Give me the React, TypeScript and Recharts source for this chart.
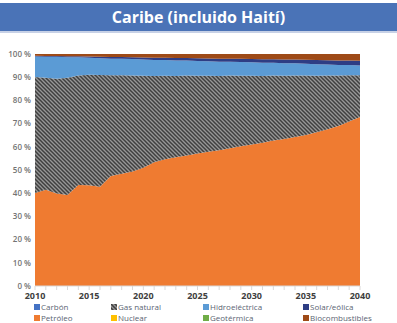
import { Area, AreaChart, XAxis, YAxis } from 'recharts';

const years = [
  2010, 2011, 2012, 2013, 2014, 2015, 2016, 2017, 2018, 2019, 2020, 2021, 2022, 2023, 2024, 2025,
  2026, 2027, 2028, 2029, 2030, 2031, 2032, 2033, 2034, 2035, 2036, 2037, 2038, 2039, 2040,
];

// participación por fuente (%)
const petroleo = [
  40.0, 41.4, 39.7, 39.2, 43.5, 43.4, 42.8, 47.4, 48.3, 49.3, 51.0, 53.4, 54.6, 55.5, 56.2, 57.1,
  57.9, 58.6, 59.3, 60.2, 61.0, 61.8, 62.6, 63.4, 64.2, 65.1, 66.3, 67.6, 69.0, 70.8, 72.8,
];
const gasNatural = [
  49.8, 48.1, 49.3, 50.5, 47.1, 47.6, 48.2, 43.4, 42.4, 41.3, 39.6, 37.2, 36.0, 35.1, 34.4, 33.5,
  32.7, 32.0, 31.3, 30.4, 29.6, 28.8, 28.0, 27.3, 26.5, 25.6, 24.4, 23.2, 21.8, 20.0, 18.0,
];
const carbon = [
  0, 0, 0, 0, 0, 0, 0, 0, 0, 0, 0, 0, 0, 0, 0, 0, 0, 0, 0, 0, 0, 0, 0, 0, 0, 0, 0, 0, 0, 0, 0,
];
const hidro = [
  8.8, 9.0, 9.4, 8.8, 7.9, 7.3, 7.2, 7.2, 7.1, 7.1, 7.0, 6.9, 6.8, 6.7, 6.5, 6.4,
  6.3, 6.2, 6.0, 5.9, 5.8, 5.7, 5.5, 5.4, 5.3, 5.1, 5.0, 4.8, 4.6, 4.4, 4.2,
];
const solarEolica = [
  0.3, 0.3, 0.3, 0.4, 0.4, 0.5, 0.6, 0.7, 0.7, 0.8, 0.9, 1.0, 1.0, 1.1, 1.1, 1.2,
  1.2, 1.3, 1.3, 1.4, 1.4, 1.5, 1.5, 1.6, 1.6, 1.7, 1.8, 1.8, 1.9, 1.9, 2.0,
];
const nuclear = [
  0, 0, 0, 0, 0, 0, 0, 0, 0, 0, 0, 0, 0, 0, 0, 0, 0, 0, 0, 0, 0, 0, 0, 0, 0, 0, 0, 0, 0, 0, 0,
];
const geotermica = [
  0, 0, 0, 0, 0, 0, 0, 0, 0, 0, 0, 0, 0, 0, 0, 0, 0, 0, 0, 0, 0, 0, 0, 0, 0, 0, 0, 0, 0, 0, 0,
];
const biocombustibles = [
  0.8, 0.9, 0.9, 1.0, 1.0, 1.1, 1.2, 1.3, 1.3, 1.4, 1.5, 1.6, 1.6, 1.7, 1.7, 1.8,
  1.9, 2.0, 2.0, 2.1, 2.2, 2.3, 2.3, 2.4, 2.4, 2.5, 2.6, 2.7, 2.8, 2.8, 2.9,
];

const yTicks = [0, 0.1, 0.2, 0.3, 0.4, 0.5, 0.6, 0.7, 0.8, 0.9, 1];

const data = years.map((year, i) => ({
  year,
  petroleo: petroleo[i],
  gas: gasNatural[i],
  carbon: carbon[i],
  hidro: hidro[i],
  solar: solarEolica[i],
  geotermica: geotermica[i],
  nuclear: nuclear[i],
  bio: biocombustibles[i],
}));

const COLORS = {
  carbon: '#4472c4',
  petroleo: '#ef7b31',
  hidro: '#5b9bd5',
  solar: '#2e3d84',
  nuclear: '#ffc000',
  geotermica: '#70ad47',
  bio: '#9e4a17',
};

const FONT = '"Open Sans", sans-serif';

const legendRows = [
  [
    { label: 'Carbón', color: COLORS.carbon },
    { label: 'Gas natural', color: 'pattern' },
    { label: 'Hidroeléctrica', color: COLORS.hidro },
    { label: 'Solar/eólica', color: COLORS.solar },
  ],
  [
    { label: 'Petróleo', color: COLORS.petroleo },
    { label: 'Nuclear', color: COLORS.nuclear },
    { label: 'Geotérmica', color: COLORS.geotermica },
    { label: 'Biocombustibles', color: COLORS.bio },
  ],
];
const legendX = [34, 111, 203, 303];

const HatchDefs = ({ id }: { id: string }) => (
  <defs>
    <pattern id={id} width='4' height='4' patternUnits='userSpaceOnUse'>
      <rect width='4' height='4' fill='#979797' />
      <path d='M-1,-1 L5,5 M-1,3 L1,5 M3,-1 L5,1' stroke='#3f3f3f' strokeWidth='1.5' />
    </pattern>
  </defs>
);

export default function App() {
  return (
    <div style={{ position: 'relative', width: 397, height: 323, background: '#fff', fontFamily: FONT }}>
      <style>{'body{margin:0}'}</style>

      {/* banner del título */}
      <div
        style={{
          position: 'absolute',
          left: 0,
          top: 3,
          width: 397,
          height: 28,
          background: '#4a73b7',
          borderBottom: '2px solid #c7d1e6',
          color: '#fff',
          fontWeight: 700,
          fontSize: 16,
          lineHeight: '28px',
          textAlign: 'center',
        }}
      >
        Caribe (incluido Haití)
      </div>

      <div style={{ position: 'absolute', left: 0, top: 0 }}>
        <AreaChart
          width={397}
          height={302}
          data={data}
          stackOffset='expand'
          margin={{ top: 54, right: 37, left: 0, bottom: 0 }}
        >
          <HatchDefs id='gasHatch' />
          <XAxis
            dataKey='year'
            type='number'
            domain={[2010, 2040]}
            ticks={years}
            interval={0}
            tickFormatter={(v) => (v % 5 === 0 ? String(v) : '')}
            stroke='#d9d9d9'
            tickSize={4}
            tickMargin={3}
            height={16}
            tick={{ fill: '#404040', fontSize: 9, fontWeight: 700, fontFamily: FONT }}
          />
          <YAxis
            domain={[0, 1]}
            ticks={yTicks}
            width={35}
            axisLine={false}
            tickLine={false}
            tickSize={4}
            tickMargin={0}
            tickFormatter={(v) => `${Math.round(v * 100)}\u00a0%`}
            tick={{ fill: '#737373', fontSize: 8, fontWeight: 600, fontFamily: FONT }}
          />
          <Area type='linear' dataKey='petroleo' stackId='1' stroke='none' fill={COLORS.petroleo} fillOpacity={1} isAnimationActive={false} />
          <Area type='linear' dataKey='gas' stackId='1' stroke='none' fill='url(#gasHatch)' fillOpacity={1} isAnimationActive={false} />
          <Area type='linear' dataKey='carbon' stackId='1' stroke='none' fill={COLORS.carbon} fillOpacity={1} isAnimationActive={false} />
          <Area type='linear' dataKey='hidro' stackId='1' stroke='none' fill={COLORS.hidro} fillOpacity={1} isAnimationActive={false} />
          <Area type='linear' dataKey='solar' stackId='1' stroke='none' fill={COLORS.solar} fillOpacity={1} isAnimationActive={false} />
          <Area type='linear' dataKey='geotermica' stackId='1' stroke='none' fill={COLORS.geotermica} fillOpacity={1} isAnimationActive={false} />
          <Area type='linear' dataKey='nuclear' stackId='1' stroke='none' fill={COLORS.nuclear} fillOpacity={1} isAnimationActive={false} />
          <Area type='linear' dataKey='bio' stackId='1' stroke='none' fill={COLORS.bio} fillOpacity={1} isAnimationActive={false} />
        </AreaChart>
      </div>

      {/* leyenda */}
      {legendRows.map((row, r) =>
        row.map((item, c) => (
          <div
            key={item.label}
            style={{
              position: 'absolute',
              left: legendX[c],
              top: 301 + r * 11,
              height: 11,
              lineHeight: '11px',
              display: 'flex',
              alignItems: 'center',
              fontSize: 8,
              color: '#5a6472',
              whiteSpace: 'nowrap',
            }}
          >
            {item.color === 'pattern' ? (
              <svg width={6} height={6} style={{ marginRight: 1 }}>
                <HatchDefs id={`legendHatch${r}${c}`} />
                <rect width={6} height={6} fill={`url(#legendHatch${r}${c})`} />
              </svg>
            ) : (
              <span style={{ width: 6, height: 6, background: item.color, marginRight: 1, display: 'inline-block' }} />
            )}
            {item.label}
          </div>
        )),
      )}
    </div>
  );
}
